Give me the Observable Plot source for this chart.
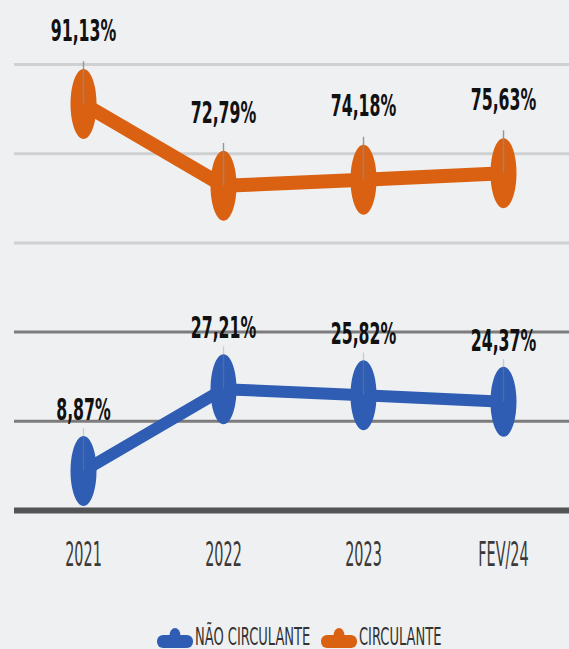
<!DOCTYPE html>
<html><head><meta charset="utf-8">
<script src="https://cdn.jsdelivr.net/npm/d3@7"></script>
<script src="https://cdn.jsdelivr.net/npm/@observablehq/plot@0.6"></script>
<style>
body{margin:0;background:#eff0f2;overflow:hidden;}
#chart{width:569px;height:649px;position:relative;background:#eff0f2;overflow:hidden;}
#legend{position:absolute;top:624px;left:0;width:569px;height:25px;}
.item{position:absolute;top:0;height:25px;}
.item svg{position:absolute;top:3px;left:0;}
.item span{position:absolute;top:0;white-space:nowrap;font-family:"Liberation Sans Narrow","Arial Narrow","DejaVu Sans Condensed",sans-serif;font-size:14.5px;color:#333;transform:scaleY(1.75);transform-origin:0 0;line-height:1;}
</style></head><body><div id="chart"></div>
<script>
const periods = ["2021", "2022", "2023", "FEV/24"];
const circulante = [91.13, 72.79, 74.18, 75.63];
const naoCirculante = [8.87, 27.21, 25.82, 24.37];
const gridValues = [0, 20, 40, 60, 80, 100];
const seriesNames = ["NÃO CIRCULANTE", "CIRCULANTE"];
const seriesColors = ["#2f5db3", "#da6112"];

const font = '"Liberation Sans Narrow","Arial Narrow","DejaVu Sans Condensed",sans-serif';
const rows = [];
periods.forEach((p, i) => {
  rows.push({period: p, value: naoCirculante[i], series: seriesNames[0]});
  rows.push({period: p, value: circulante[i], series: seriesNames[1]});
});
const fmt = v => v.toFixed(2).replace(".", ",") + "%";

const ellipse = {
  draw(ctx) {
    const rx = 13, ry = 35, k = 0.5523;
    ctx.moveTo(0, -ry);
    ctx.bezierCurveTo(k * rx, -ry, rx, -k * ry, rx, 0);
    ctx.bezierCurveTo(rx, k * ry, k * rx, ry, 0, ry);
    ctx.bezierCurveTo(-k * rx, ry, -rx, k * ry, -rx, 0);
    ctx.bezierCurveTo(-rx, -k * ry, -k * rx, -ry, 0, -ry);
    ctx.closePath();
  }
};

const gridStroke = v => v === 0 ? "#545454" : v <= 40 ? "#7c7c7c" : "#cfd0d2";
const gridWidth = v => v === 0 ? 6 : 3;

const marks = [];
gridValues.forEach(v => {
  marks.push(Plot.ruleY([v], {stroke: gridStroke(v), strokeWidth: gridWidth(v)}));
});
seriesNames.forEach((s, si) => {
  const d = rows.filter(r => r.series === s);
  marks.push(Plot.line(d, {x: "period", y: "value", stroke: seriesColors[si], strokeWidth: si === 1 ? 14 : 12, curve: "linear"}));
});
seriesNames.forEach((s, si) => {
  const d = rows.filter(r => r.series === s);
  marks.push(Plot.dot(d, {x: "period", y: "value", symbol: ellipse, r: 13, fill: seriesColors[si]}));
  marks.push(Plot.ruleX(d, {x: "period", y1: "value", y2: r => r.value + 9.5, stroke: "#8c8c8c", strokeWidth: 1.4, strokeOpacity: si === 1 ? 0.9 : 0.35}));
});
seriesNames.forEach((s, si) => {
  const d = rows.filter(r => r.series === s);
  marks.push(Plot.text(d, {x: "period", y: "value", text: r => fmt(r.value), dy: si === 1 ? -73 : -61, fontWeight: "bold", fontSize: 17.5, fill: "#111", className: "vlabel"}));
});
marks.push(Plot.text(periods, {x: d => d, frameAnchor: "bottom", dy: 55, fontSize: 16, fill: "#3a3a3a", className: "tlabel"}));

const svg = Plot.plot({
  width: 569,
  height: 600,
  marginLeft: 14,
  marginRight: 0,
  marginTop: 64,
  marginBottom: 90,
  style: {background: "transparent", fontFamily: font},
  x: {type: "point", domain: periods, range: [82, 504], padding: 0, axis: null},
  y: {domain: [0, 100], axis: null},
  marks
});

function stretch(sel, s) {
  d3.select(svg).selectAll(sel).each(function() {
    const t = this.getAttribute("transform");
    if (t) {
      this.setAttribute("transform", t + ` scale(1,${s})`);
    } else {
      const x = +this.getAttribute("x") || 0, y = +this.getAttribute("y") || 0;
      this.removeAttribute("x"); this.removeAttribute("y");
      this.setAttribute("transform", `translate(${x},${y}) scale(1,${s})`);
    }
  });
}
stretch(".vlabel text", 1.75);
stretch(".tlabel text", 2.1);

const chart = document.getElementById("chart");
chart.appendChild(svg);

const legend = document.createElement("div");
legend.id = "legend";
const legendLeft = [157, 321];
[0, 1].forEach((si, k) => {
  const item = document.createElement("div");
  item.className = "item";
  item.style.left = legendLeft[k] + "px";
  const c = seriesColors[si];
  item.innerHTML = `<svg width="36" height="22"><rect x="0" y="8" width="36" height="13" rx="6" fill="${c}"/><ellipse cx="18" cy="9" rx="5.5" ry="8" fill="${c}"/></svg><span style="left:38px">${seriesNames[si]}</span>`;
  legend.appendChild(item);
});
chart.appendChild(legend);
</script>
</body></html>
